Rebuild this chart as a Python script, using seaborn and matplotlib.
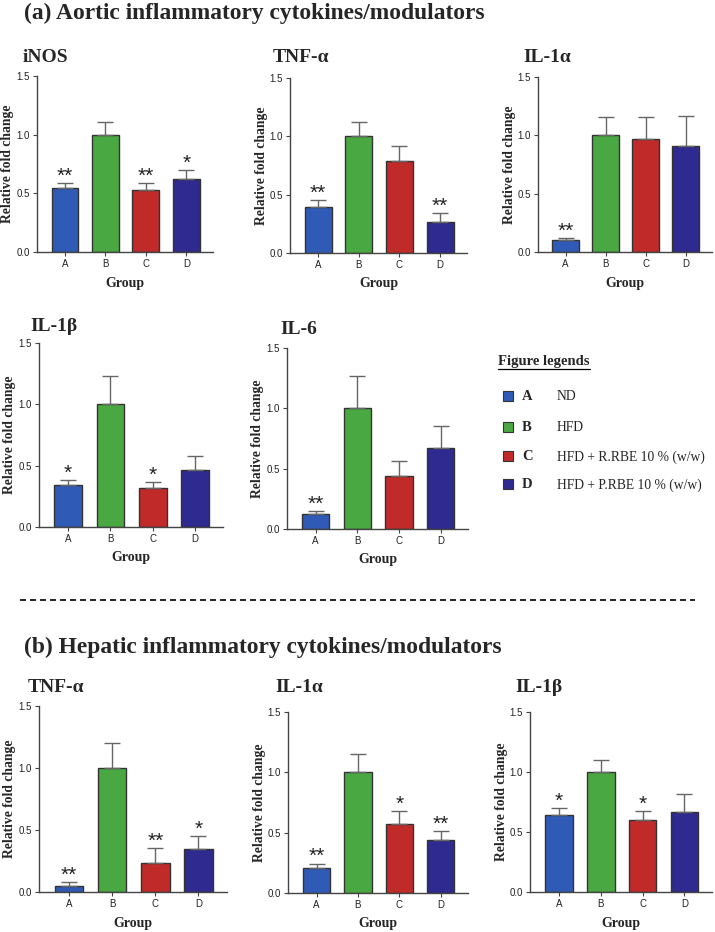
"""Relative fold change of inflammatory cytokines in aorta and liver."""

import matplotlib.pyplot as plt
import seaborn as sns
from matplotlib.lines import Line2D
from matplotlib.patches import Rectangle

# ---- data ----
GROUPS = ["A", "B", "C", "D"]
GROUP_DESC = ["ND", "HFD", "HFD + R.RBE 10 % (w/w)", "HFD + P.RBE 10 % (w/w)"]
GROUP_COLORS = ["#2f5bb7", "#4aa843", "#c02a28", "#2e2a90"]

aortic_inos_mean = [0.547, 1.0, 0.532, 0.626]
aortic_inos_err = [0.042, 0.104, 0.052, 0.069]
aortic_inos_sig = ["**", "", "**", "*"]

aortic_tnfa_mean = [0.393, 1.0, 0.786, 0.268]
aortic_tnfa_err = [0.060, 0.125, 0.133, 0.071]
aortic_tnfa_sig = ["**", "", "", "**"]

aortic_il1a_mean = [0.100, 1.0, 0.971, 0.911]
aortic_il1a_err = [0.017, 0.154, 0.182, 0.259]
aortic_il1a_sig = ["**", "", "", ""]

aortic_il1b_mean = [0.342, 1.0, 0.318, 0.462]
aortic_il1b_err = [0.038, 0.228, 0.049, 0.120]
aortic_il1b_sig = ["*", "", "*", ""]

aortic_il6_mean = [0.127, 1.0, 0.436, 0.669]
aortic_il6_err = [0.019, 0.268, 0.125, 0.185]
aortic_il6_sig = ["**", "", "", ""]

hepatic_tnfa_mean = [0.048, 1.0, 0.233, 0.346]
hepatic_tnfa_err = [0.030, 0.201, 0.118, 0.107]
hepatic_tnfa_sig = ["**", "", "**", "*"]

hepatic_il1a_mean = [0.210, 1.0, 0.575, 0.442]
hepatic_il1a_err = [0.033, 0.150, 0.105, 0.069]
hepatic_il1a_sig = ["**", "", "*", "**"]

hepatic_il1b_mean = [0.645, 1.0, 0.598, 0.667]
hepatic_il1b_err = [0.055, 0.100, 0.077, 0.152]
hepatic_il1b_sig = ["*", "", "*", ""]

Y_TICKS = [0.0, 0.5, 1.0, 1.5]

# ---- layout (pixels in a 715x932 canvas) ----
W, H = 715, 932
SERIF = ["Liberation Serif", "DejaVu Serif"]
SANS = ["Liberation Sans", "DejaVu Sans"]

sns.set_style("ticks")
plt.rcParams["font.family"] = SANS

fig = plt.figure(figsize=(W / 100, H / 100), dpi=100)


def fx(x):
    return x / W


def fy(y):
    return 1 - y / H


def add_panel(title, means, errs, sigs, box, title_xy):
    left, top, right, bottom = box
    ax = fig.add_axes([fx(left), fy(bottom), (right - left) / W, (bottom - top) / H])
    sns.barplot(
        x=GROUPS, y=means, hue=GROUPS, palette=GROUP_COLORS, width=0.66,
        saturation=1, edgecolor="#333333", linewidth=1.0, legend=False, ax=ax,
    )
    ax.errorbar(
        range(len(GROUPS)), means, yerr=[[0] * len(errs), errs], fmt="none",
        ecolor="#666666", elinewidth=1.0, capsize=6, capthick=1.0, zorder=1,
    )
    for i, (m, e, s) in enumerate(zip(means, errs, sigs)):
        if s:
            ax.annotate(s, xy=(i, m + e), xytext=(0, 1), textcoords="offset points",
                        ha="center", va="baseline", fontsize=15, color="#222222",
                        family=SANS)
    ax.set_xlim(-0.69, 3.66)
    ax.set_ylim(0, 1.5)
    ax.set_yticks(Y_TICKS)
    ax.set_yticklabels([f"{t:.1f}" for t in Y_TICKS])
    sns.despine(ax=ax)
    for side in ("left", "bottom"):
        ax.spines[side].set_color("#444444")
        ax.spines[side].set_linewidth(1.0)
    ax.tick_params(axis="both", length=3, width=0.8, color="#444444",
                   labelsize=7, labelcolor="#222222", pad=2)
    ax.set_xlabel("Group", family=SERIF, fontweight="bold", fontsize=10)
    ax.set_ylabel("Relative fold change", family=SERIF, fontweight="bold", fontsize=9.8)
    ax.xaxis.set_label_coords(0.5, -31 / (bottom - top))
    ax.xaxis.label.set_va("center")
    ax.yaxis.set_label_coords(-29 / (right - left), 0.5)
    ax.yaxis.label.set_va("center")
    fig.text(fx(title_xy[0]), fy(title_xy[1]), title, family=SERIF,
             fontweight="bold", fontsize=14, ha="left", va="center")
    return ax


# section (a)
fig.text(fx(24), fy(13), "(a) Aortic inflammatory cytokines/modulators",
         family=SERIF, fontweight="bold", fontsize=16.9, ha="left", va="center")
add_panel("iNOS", aortic_inos_mean, aortic_inos_err, aortic_inos_sig,
          (37, 76, 213, 252), (23, 58))
add_panel("TNF-α", aortic_tnfa_mean, aortic_tnfa_err, aortic_tnfa_sig,
          (290, 78, 467, 253), (273, 58))
add_panel("IL-1α", aortic_il1a_mean, aortic_il1a_err, aortic_il1a_sig,
          (538, 77, 712, 252), (523, 58))
add_panel("IL-1β", aortic_il1b_mean, aortic_il1b_err, aortic_il1b_sig,
          (39, 343, 223, 527), (30, 327))
add_panel("IL-6", aortic_il6_mean, aortic_il6_err, aortic_il6_sig,
          (287, 348, 468, 529), (280, 330))

# legend block
leg_title = fig.text(fx(498), fy(361), "Figure legends", family=SERIF,
                     fontweight="bold", fontsize=10.5, ha="left", va="center")
renderer = fig.canvas.get_renderer()
bb = leg_title.get_window_extent(renderer)
fig.add_artist(Line2D([bb.x0 / W, bb.x1 / W], [fy(368.5)] * 2,
                      color="black", lw=0.9, transform=fig.transFigure))
row_y = [396, 427, 456, 484]
for g, desc, col, y in zip(GROUPS, GROUP_DESC, GROUP_COLORS, row_y):
    fig.add_artist(Rectangle((fx(503), fy(y + 5)), 10 / W, 10 / H, facecolor=col,
                             edgecolor="#333333", lw=0.8, transform=fig.transFigure))
    fig.text(fx(522), fy(y + 1), g, family=SERIF, fontweight="bold",
             fontsize=10.5, ha="left", va="center")
    fig.text(fx(557), fy(y + 1), desc, family=SERIF, fontsize=9.8,
             ha="left", va="center")

# divider
fig.add_artist(Line2D([fx(20), fx(695)], [fy(600)] * 2, color="black", lw=1.2,
                      ls=(0, (3.6, 2.4)), transform=fig.transFigure))

# section (b)
fig.text(fx(24), fy(647), "(b) Hepatic inflammatory cytokines/modulators",
         family=SERIF, fontweight="bold", fontsize=16.9, ha="left", va="center")
add_panel("TNF-α", hepatic_tnfa_mean, hepatic_tnfa_err, hepatic_tnfa_sig,
          (39, 706, 227, 892), (28, 687))
add_panel("IL-1α", hepatic_il1a_mean, hepatic_il1a_err, hepatic_il1a_sig,
          (288, 712, 468, 893), (275, 687))
add_panel("IL-1β", hepatic_il1b_mean, hepatic_il1b_err, hepatic_il1b_sig,
          (530, 712, 712, 892), (515, 687))

fig.savefig("out.png", dpi=100)
